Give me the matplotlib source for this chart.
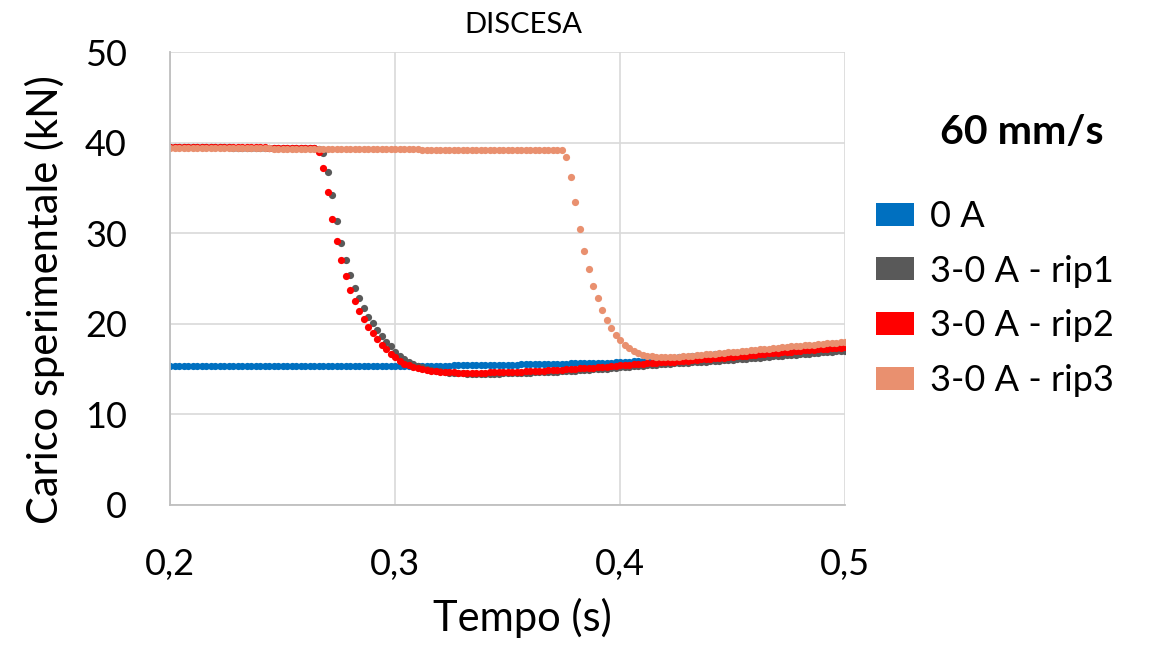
import numpy as np
import matplotlib
matplotlib.use("Agg")
import matplotlib.pyplot as plt
from matplotlib.patches import Patch

plt.rcParams['font.family'] = ['Lato', 'DejaVu Sans']

# time axis, one sample every 0.002 s
tempo = np.linspace(0.2, 0.5, 151)

# 0 A
carico_0A = [
    15.30, 15.31, 15.30, 15.29, 15.30, 15.30, 15.31, 15.30, 15.29, 15.30,
    15.30, 15.30, 15.31, 15.30, 15.29, 15.30, 15.30, 15.31, 15.30, 15.30,
    15.29, 15.30, 15.30, 15.31, 15.30, 15.30, 15.29, 15.30, 15.31, 15.30,
    15.30, 15.30, 15.31, 15.30, 15.30, 15.31, 15.30, 15.31, 15.31, 15.31,
    15.31, 15.32, 15.32, 15.32, 15.32, 15.33, 15.33, 15.33, 15.33, 15.34,
    15.34, 15.34, 15.35, 15.35, 15.35, 15.36, 15.36, 15.37, 15.37, 15.38,
    15.38, 15.39, 15.39, 15.40, 15.40, 15.41, 15.42, 15.42, 15.43, 15.44,
    15.44, 15.45, 15.46, 15.47, 15.48, 15.48, 15.49, 15.50, 15.51, 15.52,
    15.53, 15.54, 15.55, 15.56, 15.57, 15.58, 15.59, 15.60, 15.61, 15.62,
    15.63, 15.64, 15.65, 15.66, 15.67, 15.68, 15.70, 15.71, 15.72, 15.74,
    15.76, 15.79, 15.82, 15.85, 15.88, 15.92, 15.96, 16.00, 16.05, 16.10,
    16.15, 16.20, 16.25, 16.30, 16.34, 16.38, 16.42, 16.46, 16.50, 16.54,
    16.58, 16.62, 16.66, 16.70, 16.74, 16.78, 16.81, 16.84, 16.87, 16.90,
    16.93, 16.96, 16.99, 17.02, 17.05, 17.08, 17.10, 17.13, 17.16, 17.19,
    17.22, 17.25, 17.28, 17.31, 17.34, 17.37, 17.40, 17.43, 17.46, 17.49, 17.52]

# 3-0 A - rip1
carico_rip1 = [
    39.50, 39.50, 39.49, 39.49, 39.49, 39.48, 39.48, 39.48, 39.47, 39.47,
    39.47, 39.46, 39.46, 39.46, 39.45, 39.45, 39.45, 39.44, 39.44, 39.44,
    39.43, 39.43, 39.43, 39.42, 39.42, 39.42, 39.41, 39.41, 39.41, 39.40,
    39.40, 39.40, 39.39, 39.30,
    38.90, 36.80, 34.20, 31.40, 28.90, 27.00, 25.35, 24.00, 22.80, 21.70,
    20.80, 20.10, 19.30, 18.65, 18.00, 17.50, 16.90, 16.50, 16.10, 15.80,
    15.55, 15.35, 15.20, 15.05, 14.92, 14.82, 14.74, 14.67, 14.61, 14.57,
    14.54, 14.52, 14.50, 14.49, 14.48, 14.48,
    14.48, 14.49, 14.50, 14.51, 14.52, 14.53, 14.54, 14.55, 14.57, 14.59,
    14.61, 14.63, 14.65, 14.67, 14.69, 14.71, 14.73, 14.75, 14.78, 14.81,
    14.84, 14.87, 14.90, 14.93, 14.96, 14.99, 15.02, 15.06, 15.10, 15.14,
    15.18, 15.22, 15.26, 15.30, 15.34, 15.38, 15.42, 15.46, 15.50, 15.53,
    15.56, 15.59, 15.62, 15.65, 15.68, 15.71, 15.74, 15.77, 15.80, 15.83,
    15.86, 15.89, 15.92, 15.96, 16.00, 16.04, 16.08, 16.12, 16.16, 16.20,
    16.24, 16.28, 16.32, 16.36, 16.40, 16.44, 16.48, 16.52, 16.56, 16.60,
    16.64, 16.68, 16.72, 16.76, 16.80, 16.84, 16.88, 16.92, 16.96, 17.00, 17.04]

# 3-0 A - rip2
carico_rip2 = [
    39.56, 39.56, 39.55, 39.55, 39.54, 39.54, 39.53, 39.53, 39.52, 39.52,
    39.51, 39.51, 39.50, 39.50, 39.49, 39.49, 39.48, 39.48, 39.47, 39.47,
    39.46, 39.46, 39.45, 39.45, 39.44, 39.44, 39.43, 39.43, 39.42, 39.42,
    39.41, 39.40, 39.36,
    39.00, 37.20, 34.50, 31.60, 29.10, 27.00, 25.30, 23.70, 22.50, 21.40,
    20.50, 19.70, 19.00, 18.30, 17.70, 17.20, 16.70, 16.30, 15.90, 15.60,
    15.40, 15.20, 15.08, 14.98, 14.90, 14.83, 14.77, 14.72, 14.68, 14.65,
    14.63, 14.61, 14.60, 14.60, 14.60, 14.60, 14.61,
    14.62, 14.63, 14.64, 14.65, 14.66, 14.68, 14.69, 14.71, 14.73, 14.75,
    14.77, 14.79, 14.81, 14.84, 14.86, 14.89, 14.92, 14.95, 14.98, 15.01,
    15.04, 15.07, 15.10, 15.13, 15.17, 15.20, 15.24, 15.28, 15.32, 15.36,
    15.40, 15.44, 15.48, 15.52, 15.56, 15.60, 15.64, 15.67, 15.70, 15.73,
    15.76, 15.79, 15.82, 15.86, 15.90, 15.94, 15.98, 16.02, 16.06, 16.10,
    16.14, 16.18, 16.22, 16.26, 16.30, 16.35, 16.40, 16.45, 16.50, 16.55,
    16.60, 16.65, 16.70, 16.74, 16.78, 16.82, 16.86, 16.90, 16.94, 16.98,
    17.02, 17.06, 17.10, 17.14, 17.18, 17.22, 17.26, 17.30, 17.34, 17.38, 17.42]

# 3-0 A - rip3
carico_rip3 = [
    39.42, 39.42, 39.41, 39.41, 39.41, 39.40, 39.40, 39.40, 39.39, 39.39,
    39.39, 39.38, 39.38, 39.38, 39.37, 39.37, 39.37, 39.36, 39.36, 39.36,
    39.35, 39.35, 39.35, 39.34, 39.34, 39.34, 39.33, 39.33, 39.33, 39.32,
    39.32, 39.32, 39.31, 39.31, 39.31, 39.30, 39.30, 39.30, 39.29, 39.29,
    39.29, 39.28, 39.28, 39.28, 39.27, 39.27, 39.27, 39.26, 39.26, 39.26,
    39.25, 39.25, 39.25, 39.24, 39.24, 39.24, 39.23, 39.23, 39.23, 39.22,
    39.22, 39.22, 39.21, 39.21, 39.21, 39.20, 39.20, 39.20, 39.19, 39.19,
    39.19, 39.18, 39.18, 39.18, 39.17, 39.17, 39.17, 39.16, 39.16, 39.16,
    39.15, 39.15, 39.15, 39.14, 39.14, 39.14, 39.13, 39.13,
    38.40, 36.20, 33.40, 30.50, 28.00, 26.00, 24.20, 22.80, 21.50, 20.40,
    19.50, 18.80, 18.20, 17.70, 17.30, 17.00, 16.75, 16.60, 16.50, 16.42,
    16.38, 16.35,
    16.34, 16.35, 16.36, 16.38, 16.40, 16.43, 16.47, 16.52, 16.57, 16.62,
    16.68, 16.72, 16.76, 16.80, 16.84, 16.88, 16.92, 16.97, 17.02, 17.07,
    17.12, 17.17, 17.22, 17.27, 17.32, 17.37, 17.42, 17.47, 17.51, 17.55,
    17.59, 17.63, 17.67, 17.71, 17.75, 17.79, 17.83, 17.87, 17.91, 17.95, 17.99]

serie = ["0 A", "3-0 A - rip1", "3-0 A - rip2", "3-0 A - rip3"]
colori = ["#0070C0", "#595959", "#FF0000", "#E9906F"]
valori = [carico_0A, carico_rip1, carico_rip2, carico_rip3]

x_ticks = [0.2, 0.3, 0.4, 0.5]
x_labels = ["0,2", "0,3", "0,4", "0,5"]
y_ticks = [0, 10, 20, 30, 40, 50]

fig = plt.figure(figsize=(11.53, 6.49), dpi=100)
ax = fig.add_axes([170/1153, 1 - 505/649, 675/1153, 453/649])

for v, c in zip(valori, colori):
    ax.plot(tempo, v, linestyle="none", marker="o", ms=5.2, mew=0, color=c)

ax.set_xlim(0.2, 0.5)
ax.set_ylim(0, 50)
ax.set_xticks(x_ticks)
ax.set_xticklabels(x_labels)
ax.set_yticks(y_ticks)
ax.tick_params(length=0, labelsize=26, pad=31)
ax.grid(True, color="#D9D9D9", linewidth=1.2)
ax.set_axisbelow(True)
for s in ["top", "right"]:
    ax.spines[s].set_visible(False)
for s in ["left", "bottom"]:
    ax.spines[s].set_color("#BFBFBF")
    ax.spines[s].set_linewidth(1.3)

fig.text(522/1153, 1 - 618/649, "Tempo (s)", fontsize=30, ha="center", va="center")
fig.text(45/1153, 1 - 300/649, "Carico sperimentale (kN)", fontsize=30,
         rotation=90, ha="center", va="center")
fig.text(523/1153, 1 - 25/649, "DISCESA", fontsize=21, ha="center", va="center")
fig.text(1022/1153, 1 - 133/649, "60 mm/s", fontsize=29.5, fontweight="bold",
         ha="center", va="center")

handles = [Patch(facecolor=c, edgecolor="none") for c in colori]
fig.legend(handles, serie, loc="upper left", bbox_to_anchor=(876/1153, 1 - 200/649),
           frameon=False, fontsize=26, handlelength=1.05, handleheight=0.6,
           handletextpad=0.45, labelspacing=0.6, borderpad=0, borderaxespad=0)

fig.savefig("out.png", dpi=100)
